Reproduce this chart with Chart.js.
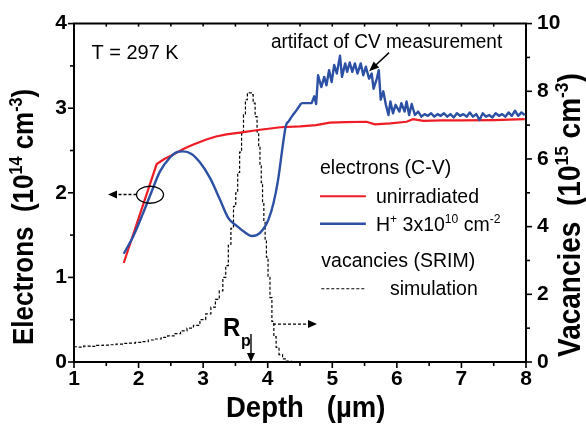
<!DOCTYPE html>
<html><head><meta charset="utf-8">
<script src="https://cdn.jsdelivr.net/npm/chart.js@4.4.0/dist/chart.umd.min.js"></script>
<style>html,body{margin:0;padding:0;background:#fff;}#wrap{width:586px;height:428px;}</style>
</head><body><div id="wrap"><canvas id="c" width="586" height="428"></canvas></div>
<script>
// ---- data ----
const depthUnirr = [1.77,2.28,2.40,2.53,2.70,2.85,3.05,3.20,3.36,3.60,3.88,4.20,4.50,4.75,4.96,5.20,5.53,5.66,5.90,6.15,6.25,6.41,6.70,7.00,7.50,7.98];
const electronsUnirr = [1.17,2.34,2.40,2.45,2.52,2.57,2.63,2.665,2.69,2.715,2.745,2.775,2.785,2.80,2.83,2.835,2.84,2.81,2.82,2.84,2.87,2.85,2.855,2.855,2.86,2.87];

// irradiated: smooth part (C-V profile) and the noisy artifact part
const depthIrrSmooth = [1.77,1.92,2.07,2.20,2.33,2.49,2.59,2.69,2.82,2.95,3.11,3.26,3.39,3.52,3.65,3.75,3.83,3.93,4.01,4.09,4.16,4.23,4.28,4.33,4.38,4.45,4.52];
const electronsIrrSmooth = [1.28,1.49,1.76,2.01,2.25,2.42,2.48,2.49,2.46,2.36,2.17,1.92,1.70,1.61,1.53,1.49,1.50,1.57,1.68,1.88,2.15,2.54,2.79,2.85,2.91,2.98,3.06];
const depthIrrNoisy = [4.52,4.68,4.72,4.75,
  4.78,4.83,4.875,4.91,4.95,4.99,5.03,5.07,5.12,5.15,5.20,5.23,5.27,5.31,5.35,5.39,5.44,5.48,5.52,5.57,5.61,5.64,5.69,5.72,5.75,5.79,5.83,5.87,5.90,5.94,5.98,6.04,6.07,6.12,6.15,6.19,6.23,6.28,6.33,6.38,
  6.43,6.48,6.53,6.58,6.63,6.68,6.73,6.78,6.83,6.88,6.93,6.98,7.03,7.08,7.13,7.18,7.23,7.28,7.33,7.38,7.43,7.48,7.53,7.58,7.63,7.68,7.73,7.78,7.83,7.88,7.93,7.98];
const electronsIrrNoisy = [3.06,3.06,3.14,3.05,
  3.39,3.25,3.37,3.27,3.45,3.31,3.51,3.41,3.62,3.37,3.53,3.43,3.54,3.43,3.53,3.41,3.53,3.39,3.49,3.35,3.41,3.23,3.35,3.45,3.10,3.20,3.04,2.92,3.08,2.94,3.04,2.96,3.06,2.96,3.08,2.92,3.05,2.92,2.96,2.90,
  2.93,2.91,2.94,2.90,2.93,2.91,2.94,2.90,2.93,2.89,2.94,2.91,2.93,2.90,2.95,2.90,2.93,2.86,2.94,2.90,2.92,2.89,2.94,2.91,2.93,2.90,2.95,2.91,2.97,2.91,2.95,2.92];

const depthSrim = [1.00,1.10,1.20,1.30,1.40,1.50,1.60,1.70,1.80,1.90,2.00,2.10,2.20,2.30,2.40,2.50,2.60,2.70,2.80,2.90,
  3.00,3.08,3.16,3.22,3.28,3.33,3.37,3.41,3.45,3.49,3.52,3.55,3.58,3.61,3.64,3.67,3.70,3.73,3.76,3.79,
  3.82,3.85,3.87,3.89,3.91,3.93,3.95,3.97,3.99,4.02,4.05,4.08,4.11,4.15,4.20,4.26,4.32,4.40];
const vacanciesSrim = [0.45,0.44,0.47,0.46,0.49,0.50,0.51,0.53,0.55,0.56,0.58,0.60,0.65,0.68,0.73,0.77,0.84,0.92,1.00,1.08,
  1.25,1.42,1.62,1.85,2.10,2.50,2.85,3.45,3.95,4.60,5.00,5.60,6.20,6.75,7.30,7.75,7.93,7.95,7.90,7.65,
  7.25,6.80,6.35,5.80,5.30,4.70,4.15,3.60,3.10,2.50,1.90,1.20,0.75,0.43,0.22,0.09,0.03,0.00];

const depthTicks = [1,2,3,4,5,6,7,8];
const electronTicks = [0,1,2,3,4];
const vacancyTicks = [0,2,4,6,8,10];

// ---- drawing ----
const FAM = "'Liberation Sans', Arial, Helvetica, sans-serif";
const RED = '#ee1c25', BLUE = '#2c50a4';
const pts = (xs, ys) => xs.map((x, i) => ({x, y: ys[i]}));

function rich(ctx, parts, size, weight, x0, y0, rot, stretch) {
  ctx.save();
  ctx.translate(x0, y0);
  if (rot) ctx.rotate(rot);
  if (stretch) ctx.scale(1, stretch);
  ctx.textAlign = 'left'; ctx.textBaseline = 'alphabetic';
  let cx = 0;
  for (const p of parts) {
    const fs = p.sup ? size * 0.62 : size;
    ctx.font = `${weight} ${fs}px ${FAM}`;
    ctx.fillText(p.t, cx, p.sup ? -size * 0.40 : 0);
    cx += ctx.measureText(p.t).width;
  }
  ctx.restore();
}
function seg(ctx, x1, y1, x2, y2) { ctx.beginPath(); ctx.moveTo(x1, y1); ctx.lineTo(x2, y2); ctx.stroke(); }
function head(ctx, tx, ty, ang, len, wid) {
  ctx.save(); ctx.translate(tx, ty); ctx.rotate(ang);
  ctx.beginPath(); ctx.moveTo(0, 0); ctx.lineTo(-len, -wid / 2); ctx.lineTo(-len, wid / 2); ctx.closePath(); ctx.fill();
  ctx.restore();
}

const annot = {
  id: 'annot',
  afterDraw(chart) {
    const {ctx, chartArea: a, scales: {x, y, y2}} = chart;
    const X = d => x.getPixelForValue(d), Y = v => y.getPixelForValue(v);
    ctx.save();
    ctx.strokeStyle = '#000'; ctx.fillStyle = '#000';
    ctx.lineWidth = 2; seg(ctx, a.left - 1, a.top, a.right + 1, a.top);
    ctx.lineWidth = 1.6;
    x.ticks.forEach(t => { const p = X(t.value), maj = Number.isInteger(t.value);
      seg(ctx, p, a.bottom, p, a.bottom + (maj ? 6 : 4)); seg(ctx, p, a.top, p, a.top + 3); });
    y.ticks.forEach(t => { const p = Y(t.value), maj = Number.isInteger(t.value);
      seg(ctx, a.left, p, a.left - (maj ? 6 : 4), p); });
    y2.ticks.forEach(t => { const p = y2.getPixelForValue(t.value), maj = t.value % 2 === 0;
      seg(ctx, a.right, p, a.right + (maj ? 6 : 4), p); });

    rich(ctx, [{t: 'Electrons  (10'}, {t: '14', sup: 1}, {t: ' cm'}, {t: '-3', sup: 1}, {t: ')'}], 26, 'bold', 33, 345, -Math.PI / 2, 1.1);
    rich(ctx, [{t: 'Vacancies  (10'}, {t: '15', sup: 1}, {t: ' cm'}, {t: '-3', sup: 1}, {t: ')'}], 28, 'bold', 580, 357, -Math.PI / 2, 1.1);
    rich(ctx, [{t: 'Depth   (\u00b5m)'}], 27.5, 'bold', 226, 416.5, 0, 1.06);

    rich(ctx, [{t: 'T = 297 K'}], 20, 'normal', X(1.27), Y(3.587), 0, 1.05);
    rich(ctx, [{t: 'artifact of CV measurement'}], 19, 'normal', X(4.05), Y(3.707), 0, 1.05);
    ctx.lineWidth = 1.4;
    const ax1 = X(5.88), ay1 = Y(3.657), ax2 = X(5.57), ay2 = Y(3.436);
    const ang = Math.atan2(ay2 - ay1, ax2 - ax1);
    seg(ctx, ax1, ay1, ax2 - 6 * Math.cos(ang), ay2 - 6 * Math.sin(ang));
    head(ctx, ax2, ay2, ang, 10, 8);

    rich(ctx, [{t: 'electrons (C-V)'}], 19.5, 'normal', X(4.81), Y(2.227), 0, 1.05);
    ctx.lineWidth = 2.2; ctx.strokeStyle = RED; seg(ctx, X(4.81), Y(1.959), X(5.52), Y(1.959));
    ctx.strokeStyle = BLUE; ctx.lineWidth = 2.4; seg(ctx, X(4.81), Y(1.634), X(5.52), Y(1.634));
    ctx.strokeStyle = '#000';
    rich(ctx, [{t: 'unirradiated'}], 19.5, 'normal', X(5.677), Y(1.877), 0, 1.05);
    rich(ctx, [{t: 'H'}, {t: '+', sup: 1}, {t: ' 3x10'}, {t: '10', sup: 1}, {t: ' cm'}, {t: '-2', sup: 1}], 19.5, 'normal', X(5.677), Y(1.549), 0, 1.05);
    rich(ctx, [{t: 'vacancies (SRIM)'}], 19.5, 'normal', X(4.83), Y(1.122), 0, 1.05);
    ctx.lineWidth = 1.2; ctx.setLineDash([3, 2]); seg(ctx, X(4.83), Y(0.866), X(5.52), Y(0.866)); ctx.setLineDash([]);
    rich(ctx, [{t: 'simulation'}], 19.5, 'normal', X(5.894), Y(0.793), 0, 1.05);

    ctx.lineWidth = 1.3;
    ctx.beginPath(); ctx.ellipse(X(2.177), Y(1.977), 13.5, 8.5, 0, 0, Math.PI * 2); ctx.stroke();
    ctx.setLineDash([3, 2]); seg(ctx, X(1.968), Y(1.98), X(1.66), Y(1.98)); ctx.setLineDash([]);
    head(ctx, X(1.527), Y(1.98), Math.PI, 9, 8);
    ctx.setLineDash([3, 2]); seg(ctx, X(4.082), Y(0.448), X(4.63), Y(0.448)); ctx.setLineDash([]);
    head(ctx, X(4.763), Y(0.448), 0, 9, 8);

    rich(ctx, [{t: 'R'}], 24, 'bold', X(3.307), Y(0.308), 0, 1.05);
    rich(ctx, [{t: 'p'}], 16, 'bold', X(3.585), Y(0.192), 0, 1.05);
    ctx.lineWidth = 1.4; seg(ctx, X(3.741), Y(0.331), X(3.741), Y(0) - 8);
    head(ctx, X(3.741), Y(0), Math.PI / 2, 9, 8);
    ctx.restore();
  }
};

const tickFont = {family: FAM, size: 21, weight: 'bold'};
new Chart(document.getElementById('c'), {
  type: 'line',
  data: {datasets: [
    {label: 'H+ 3x10^10 cm^-2 (artifact)', data: pts(depthIrrNoisy, electronsIrrNoisy), yAxisID: 'y', borderColor: BLUE, borderWidth: 2.4, pointRadius: 0, tension: 0, fill: false, borderJoinStyle: 'round'},
    {label: 'H+ 3x10^10 cm^-2', data: pts(depthIrrSmooth, electronsIrrSmooth), yAxisID: 'y', borderColor: BLUE, borderWidth: 2.4, pointRadius: 0, cubicInterpolationMode: 'monotone', fill: false},
    {label: 'unirradiated', data: pts(depthUnirr, electronsUnirr), yAxisID: 'y', borderColor: RED, borderWidth: 2.2, pointRadius: 0, tension: 0, fill: false},
    {label: 'simulation', data: pts(depthSrim, vacanciesSrim), yAxisID: 'y2', borderColor: '#000', borderWidth: 1.2, borderDash: [3, 2], pointRadius: 0, stepped: 'middle', fill: false}
  ]},
  options: {
    responsive: false, animation: false, devicePixelRatio: 1,
    layout: {padding: {top: 17, left: 0, right: 0, bottom: 0}},
    plugins: {legend: {display: false}, tooltip: {enabled: false}},
    scales: {
      x: {type: 'linear', min: 1, max: 8,
        ticks: {stepSize: 0.5, autoSkip: false, maxRotation: 0, color: '#000', font: tickFont, padding: 5,
          callback: v => depthTicks.includes(v) ? String(v) : ''},
        grid: {display: false, drawTicks: false}, border: {display: true, color: '#000', width: 2},
        afterFit: s => { s.height = 66; }},
      y: {position: 'left', min: 0, max: 4,
        ticks: {stepSize: 0.5, autoSkip: false, color: '#000', font: tickFont, padding: 7,
          callback: v => electronTicks.includes(v) ? String(v) : ''},
        grid: {display: false, drawTicks: false}, border: {display: true, color: '#000', width: 2},
        afterFit: s => { s.width = 74; }},
      y2: {position: 'right', min: 0, max: 10,
        ticks: {stepSize: 1, autoSkip: false, color: '#000', font: tickFont, padding: 11,
          callback: v => vacancyTicks.includes(v) ? String(v) : ''},
        grid: {display: false, drawTicks: false}, border: {display: true, color: '#000', width: 2},
        afterFit: s => { s.width = 60; }}
    }
  },
  plugins: [annot]
});
</script></body></html>
